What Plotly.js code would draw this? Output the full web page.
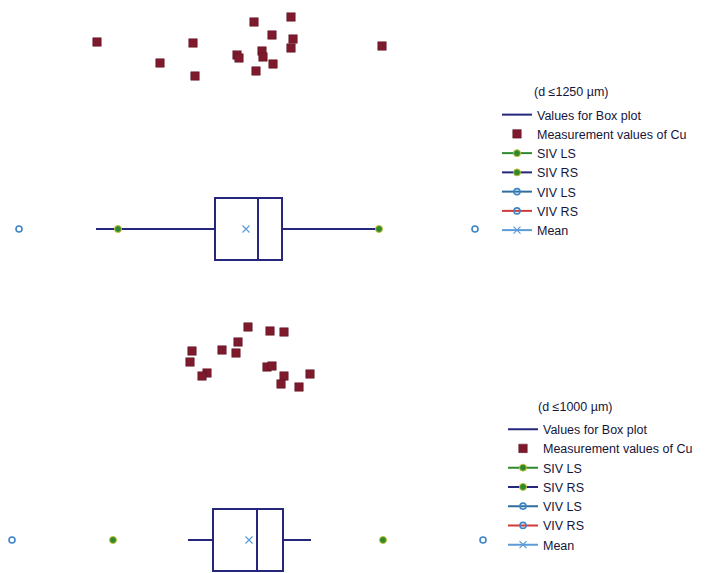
<!DOCTYPE html>
<html>
<head>
<meta charset="utf-8">
<script src="https://cdn.plot.ly/plotly-3.0.1.min.js"></script>
<style>html,body{margin:0;padding:0;background:#fff;}#chart{width:705px;height:573px;}</style>
</head>
<body>
<div id="chart"></div>
<script>
// ---- Top panel (d <= 1250 um) ----
const cuTopX = [9.7, 19.3, 16.0, 19.5, 25.4, 29.1, 27.2, 29.3, 29.1, 23.7, 23.9, 26.2, 26.3, 27.3, 25.6, 38.2];
const cuTopJitter = [23.8, 23.7, 21.7, 20.4, 25.8, 26.3, 24.5, 24.1, 23.2, 22.5, 22.2, 22.9, 22.3, 21.6, 20.9, 23.4];
const boxTop = {lower: 9.6, q1: 21.5, median: 25.8, q3: 28.2, upper: 38.0, mean: 24.6};
const sivTop = {ls: 11.8, rs: 37.9};
const vivTop = {ls: 1.9, rs: 47.5};
const rowTop = 5.1;

// ---- Bottom panel (d <= 1000 um) ----
const cuBotX = [24.8, 27.0, 28.4, 23.8, 22.2, 23.6, 19.2, 19.0, 20.7, 20.2, 26.7, 27.2, 28.4, 28.1, 29.9, 31.0];
const cuBotJitter = [24.6, 24.2, 24.1, 23.1, 22.3, 22.0, 22.2, 21.1, 20.0, 19.7, 20.6, 20.7, 19.7, 18.9, 18.6, 19.9];
const boxBot = {lower: 18.8, q1: 21.3, median: 25.7, q3: 28.3, upper: 31.1, mean: 24.9};
const sivBot = {ls: 11.3, rs: 38.3};
const vivBot = {ls: 1.2, rs: 48.3};
const rowBot = 3.3;

const panelTitles = ['(d \u22641250 \u00b5m)', '(d \u22641000 \u00b5m)'];

const NAVY = '#26277c', CU = '#7e1a2c', GREEN = '#2f8a2f', GEDGE = '#c9c23a';
const VIVC = '#3b86c6';

function panelTraces(cuX, cuY, box, siv, viv, row, xa, ya, leg) {
  return [
    {type: 'box', orientation: 'h', y: [row], q1: [box.q1], median: [box.median], q3: [box.q3],
     lowerfence: [box.lower], upperfence: [box.upper], width: 6.2, whiskerwidth: 0,
     fillcolor: 'rgba(255,255,255,1)', line: {color: NAVY, width: 2}, boxpoints: false,
     showlegend: false, xaxis: xa, yaxis: ya, hoverinfo: 'skip'},
    {type: 'scatter', mode: 'lines', name: 'Values for Box plot',
     x: [box.lower, box.q1, null, box.q3, box.upper], y: [row, row, null, row, row],
     line: {color: NAVY, width: 2}, xaxis: xa, yaxis: ya, legend: leg},
    {type: 'scatter', mode: 'markers', name: 'Measurement values of Cu', x: cuX, y: cuY,
     marker: {symbol: 'square', size: 8.5, color: CU, line: {color: '#5a1020', width: 0.5}},
     xaxis: xa, yaxis: ya, legend: leg},
    {type: 'scatter', mode: 'lines+markers', name: 'SIV LS', x: [siv.ls], y: [row],
     line: {color: GREEN, width: 2}, marker: {size: 7, color: GREEN, line: {color: GEDGE, width: 1}},
     xaxis: xa, yaxis: ya, legend: leg},
    {type: 'scatter', mode: 'lines+markers', name: 'SIV RS', x: [siv.rs], y: [row],
     line: {color: NAVY, width: 2}, marker: {size: 7, color: GREEN, line: {color: GEDGE, width: 1}},
     xaxis: xa, yaxis: ya, legend: leg},
    {type: 'scatter', mode: 'lines+markers', name: 'VIV LS', x: [viv.ls], y: [row],
     line: {color: '#2f6e9e', width: 2}, marker: {symbol: 'circle-open', size: 6, color: VIVC, line: {width: 1.6}},
     xaxis: xa, yaxis: ya, legend: leg},
    {type: 'scatter', mode: 'lines+markers', name: 'VIV RS', x: [viv.rs], y: [row],
     line: {color: '#d23a3a', width: 2}, marker: {symbol: 'circle-open', size: 6, color: VIVC, line: {width: 1.6}},
     xaxis: xa, yaxis: ya, legend: leg},
    {type: 'scatter', mode: 'lines+markers', name: 'Mean', x: [box.mean], y: [row],
     line: {color: '#5b9bd8', width: 2}, marker: {symbol: 'x-thin-open', size: 7, color: '#5b9bd8', line: {width: 1.2}},
     xaxis: xa, yaxis: ya, legend: leg}
  ];
}

const data = [].concat(
  panelTraces(cuTopX, cuTopJitter, boxTop, sivTop, vivTop, rowTop, 'x', 'y', 'legend'),
  panelTraces(cuBotX, cuBotJitter, boxBot, sivBot, vivBot, rowBot, 'x2', 'y2', 'legend2')
);

const hidden = {visible: false, showgrid: false, zeroline: false, fixedrange: true};
const legFont = {family: 'Liberation Sans, Arial, sans-serif', size: 12.5, color: '#15153a'};

const layout = {
  width: 705, height: 573,
  margin: {l: 0, r: 0, t: 0, b: 0},
  paper_bgcolor: '#ffffff', plot_bgcolor: 'rgba(0,0,0,0)',
  xaxis: Object.assign({range: [0, 70.5], anchor: 'y'}, hidden),
  yaxis: Object.assign({range: [0, 28], domain: [1 - 280/573, 1], anchor: 'x'}, hidden),
  xaxis2: Object.assign({range: [0, 70.5], anchor: 'y2'}, hidden),
  yaxis2: Object.assign({range: [0, 28], domain: [0, 280/573], anchor: 'x2'}, hidden),
  showlegend: true,
  legend: {x: 497/705, y: 1 - 100/573, xanchor: 'left', yanchor: 'top', font: legFont, bgcolor: 'rgba(0,0,0,0)',
           tracegroupgap: 0, itemwidth: 30},
  legend2: {x: 503/705, y: 1 - 414.5/573, xanchor: 'left', yanchor: 'top', font: legFont, bgcolor: 'rgba(0,0,0,0)',
            tracegroupgap: 0, itemwidth: 30},
  annotations: [
    {text: panelTitles[0], xref: 'paper', yref: 'paper', x: 532/705, y: 1 - 92/573, xanchor: 'left', yanchor: 'middle',
     showarrow: false, font: legFont},
    {text: panelTitles[1], xref: 'paper', yref: 'paper', x: 536/705, y: 1 - 407/573, xanchor: 'left', yanchor: 'middle',
     showarrow: false, font: legFont}
  ]
};

Plotly.newPlot('chart', data, layout, {staticPlot: true, displayModeBar: false});
</script>
</body>
</html>
